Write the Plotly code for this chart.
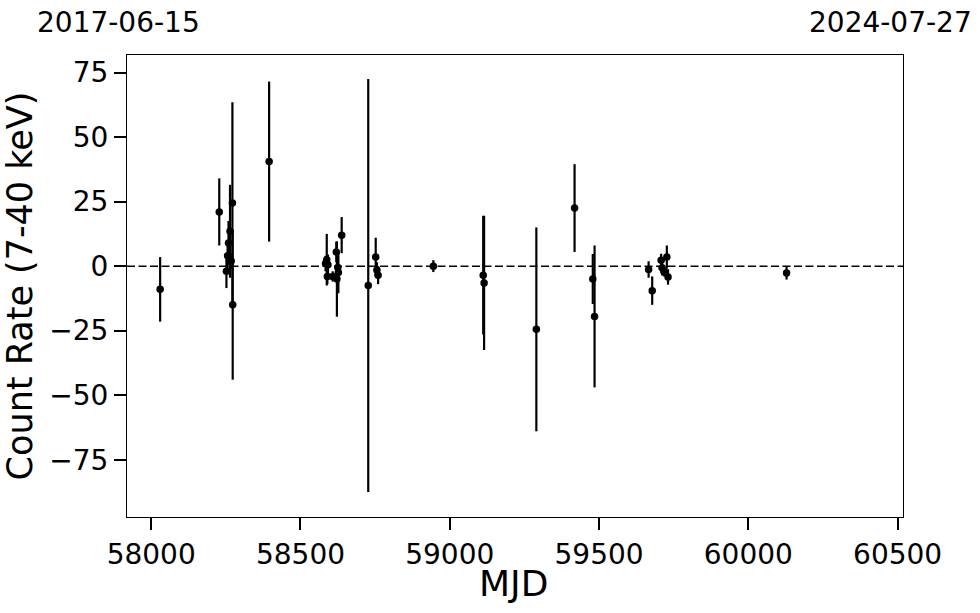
import plotly.graph_objects as go

mjd = [58030, 58228, 58252, 58256, 58259, 58264, 58268, 58272, 58273, 58395,
       58584, 58588, 58590, 58592, 58608, 58620, 58622, 58625, 58627, 58638,
       58727, 58752, 58756, 58760, 58945, 59112, 59115, 59290, 59418, 59479,
       59485, 59666, 59678, 59708, 59711, 59717, 59727, 59731, 60128]
rate = [-9, 21, -2, 4, 9, 13.5, 2, 24.5, -15, 40.5,
        1, 2.5, -4, 0.5, -4, 5.5, -5, -0.5, -2.5, 12,
        -7.5, 3.5, -1.5, -3.5, 0, -3.5, -6.5, -24.5, 22.5, -5,
        -19.5, -1.3, -9.5, 2.3, -0.6, -2, 3.5, -4.2, -2.7]
err = [12.5, 13, 6.5, 5, 8.5, 18, 3, 39, 29, 31,
       3, 10, 3, 4, 2, 4, 14.6, 6, 8, 7,
       80, 7.5, 3, 3.5, 2.3, 23, 26, 39.5, 17, 9.7,
       27.5, 3.2, 5.5, 2.5, 3, 2, 4.5, 3, 2.5]

x_range = [57919, 60518]
y_range = [-97.2, 81.8]
x_ticks = [58000, 58500, 59000, 59500, 60000, 60500]
y_ticks = [-75, -50, -25, 0, 25, 50, 75]
date_left = "2017-06-15"
date_right = "2024-07-27"

FONT = "DejaVu Sans"
W, H = 980, 613
L, R, T, B = 127, 77, 55, 96
plot_w = W - L - R

fig = go.Figure()
fig.add_trace(go.Scatter(
    x=mjd, y=rate, mode="markers",
    marker=dict(color="black", size=7.5),
    error_y=dict(type="data", array=err, visible=True, color="black",
                 thickness=2.2, width=0),
    showlegend=False,
))
fig.add_shape(type="line", xref="paper", yref="y", x0=0, x1=1, y0=0, y1=0,
              line=dict(color="black", width=1.5, dash="8px,3.5px"))

fig.update_xaxes(
    range=x_range, tickvals=x_ticks, ticktext=[str(t) for t in x_ticks],
    showgrid=False, zeroline=False, showline=True, linecolor="black", linewidth=1,
    mirror=True, ticks="outside", ticklen=12, tickwidth=2, tickcolor="black",
    tickfont=dict(family=FONT, size=28, color="black"),
)
fig.update_yaxes(
    range=y_range, tickvals=y_ticks,
    ticktext=[("\u2212" + str(-t)) if t < 0 else str(t) for t in y_ticks],
    showgrid=False, zeroline=False, showline=True, linecolor="black", linewidth=1,
    mirror=True, ticks="outside", ticklen=12, tickwidth=2, tickcolor="black",
    tickfont=dict(family=FONT, size=28, color="black"),
    title=dict(text="Count Rate (7-40 keV)", font=dict(family=FONT, size=35, color="black"), standoff=7),
)
fig.add_annotation(text="MJD", xref="paper", yref="paper", x=(513.5 - L) / plot_w, y=0,
                   yshift=-66, showarrow=False, xanchor="center", yanchor="middle",
                   borderpad=0, font=dict(family=FONT, size=36, color="black"))
fig.add_annotation(text=date_left, xref="paper", yref="paper", x=(118.5 - L) / plot_w, y=1,
                   yshift=33, showarrow=False, xanchor="center", yanchor="middle",
                   borderpad=0, font=dict(family=FONT, size=28, color="black"))
fig.add_annotation(text=date_right, xref="paper", yref="paper", x=(890 - L) / plot_w, y=1,
                   yshift=33, showarrow=False, xanchor="center", yanchor="middle",
                   borderpad=0, font=dict(family=FONT, size=28, color="black"))

fig.update_layout(
    width=W, height=H,
    margin=dict(l=L, r=R, t=T, b=B),
    plot_bgcolor="white", paper_bgcolor="white",
    font=dict(family=FONT, color="black"),
)
fig.write_html("out.html", config={"displayModeBar": False},
               post_script="document.body.style.margin='0px';document.body.style.overflow='hidden';")
